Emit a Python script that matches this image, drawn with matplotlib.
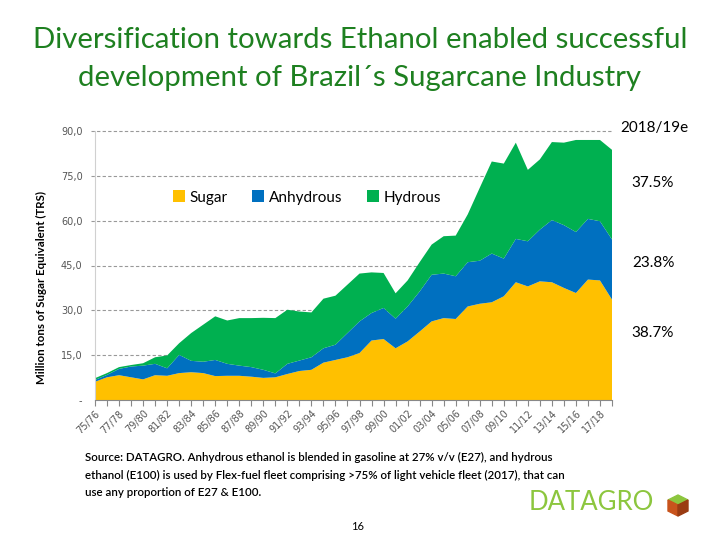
"""Brazil sugarcane TRS split: sugar / anhydrous / hydrous ethanol"""
import matplotlib
matplotlib.use("Agg")
import matplotlib.pyplot as plt
from matplotlib.patches import Polygon

plt.rcParams['font.family'] = ['Lato', 'DejaVu Sans']

seasons = ['75/76', '76/77', '77/78', '78/79', '79/80', '80/81', '81/82', '82/83',
           '83/84', '84/85', '85/86', '86/87', '87/88', '88/89', '89/90', '90/91',
           '91/92', '92/93', '93/94', '94/95', '95/96', '96/97', '97/98', '98/99',
           '99/00', '00/01', '01/02', '02/03', '03/04', '04/05', '05/06', '06/07',
           '07/08', '08/09', '09/10', '10/11', '11/12', '12/13', '13/14', '14/15',
           '15/16', '16/17', '17/18', '18/19']

# million t TRS
sugar = [6.1, 7.6, 8.3, 7.6, 6.9, 8.3, 8.1, 9.0, 9.3, 9.0, 8.0, 8.1, 8.1, 7.8, 7.4,
         7.6, 8.7, 9.7, 10.1, 12.5, 13.4, 14.3, 15.7, 19.9, 20.4, 17.3, 19.6, 22.9,
         26.3, 27.4, 27.1, 31.3, 32.2, 32.7, 34.7, 39.4, 38.0, 39.7, 39.4, 37.5,
         35.8, 40.3, 40.0, 33.6]
anhydrous = [0.6, 0.8, 2.1, 3.6, 4.6, 3.8, 2.5, 6.1, 3.8, 3.8, 5.4, 4.0, 3.4, 3.2, 2.7,
             1.3, 3.4, 3.5, 4.2, 4.8, 5.1, 8.1, 10.6, 9.2, 10.4, 9.9, 11.7, 13.4,
             15.6, 14.9, 14.3, 14.8, 14.4, 16.3, 12.6, 14.5, 15.1, 17.3, 20.8, 21.0,
             20.4, 20.3, 19.8, 20.1]
hydrous = [0.6, 0.6, 0.6, 0.5, 0.8, 2.2, 4.3, 3.9, 9.3, 12.4, 14.6, 14.5, 15.9, 16.4,
           17.4, 18.5, 18.1, 16.4, 15.0, 16.6, 16.4, 16.2, 16.0, 13.6, 11.7, 8.5, 8.7,
           9.8, 10.1, 12.5, 13.6, 16.0, 24.4, 30.8, 31.8, 32.2, 23.9, 23.5, 26.1, 27.6,
           30.8, 26.4, 27.2, 30.0]

share_labels = ['37.5%', '23.8%', '38.7%']   # hydrous, anhydrous, sugar in 2018/19e
y_ticks = [0, 15, 30, 45, 60, 75, 90]

source_lines = [
    "Source: DATAGRO. Anhydrous ethanol is blended in gasoline at 27% v/v (E27), and hydrous",
    "ethanol (E100) is used by Flex-fuel fleet comprising >75% of light vehicle fleet (2017), that can",
    "use any proportion of E27 & E100.",
]

C_SUGAR = '#FFC000'
C_ANHYD = '#0070C0'
C_HYD = '#00B050'
GRID = '#999999'

fig = plt.figure(figsize=(7.2, 5.4), dpi=100)
ax = fig.add_axes([95 / 720, 1 - 400 / 540, (612 - 95) / 720, (400 - 131) / 540])

x = list(range(len(seasons)))
ax.stackplot(x, sugar, anhydrous, hydrous, colors=[C_SUGAR, C_ANHYD, C_HYD],
             labels=['Sugar', 'Anhydrous', 'Hydrous'], zorder=2)

ax.set_xlim(0, len(seasons) - 1)
ax.set_ylim(0, 90)
ax.set_yticks(y_ticks)
ax.set_yticklabels(['-' if v == 0 else f'{v:.1f}'.replace('.', ',') for v in y_ticks],
                   fontsize=7, color='#555555', family=['DejaVu Sans'])
for v in y_ticks[1:]:
    ax.plot([-0.3, len(seasons) - 1], [v, v], ls=(0, (3, 2)), lw=0.8, color=GRID,
            zorder=1, clip_on=False)

ax.set_xticks(x)
ax.set_xticklabels([s if i % 2 == 0 else '' for i, s in enumerate(seasons)],
                   rotation=45, ha='right', rotation_mode='anchor', fontsize=7,
                   color='#555555', family=['DejaVu Sans'])
ax.tick_params(axis='x', length=4, color='#888888', pad=2)
ax.tick_params(axis='y', length=0, pad=9)

for side in ['top', 'right']:
    ax.spines[side].set_visible(False)
ax.spines['left'].set_color('#D0D0D0')
ax.spines['bottom'].set_color('#888888')

ax.set_ylabel('Million tons of Sugar Equivalent (TRS)', fontsize=8.3,
              fontweight='bold')
ax.yaxis.set_label_coords(-0.092, 0.42)

ax.legend(loc='upper center', bbox_to_anchor=(0.41, 0.83), ncol=3, frameon=False,
          fontsize=11, handlelength=0.8, handleheight=0.8, handletextpad=0.3,
          columnspacing=1.6)

# right hand annotations
fig.text(654 / 720, 1 - 128 / 540, '2018/19e', fontsize=11, ha='center', va='center')
for txt, ypx in zip(share_labels, [183, 263, 333]):
    fig.text(653 / 720, 1 - ypx / 540, txt, fontsize=11, ha='center', va='center')

fig.text(0.5, 1 - 40 / 540, 'Diversification towards Ethanol enabled successful',
         fontsize=21.2, color='#1E8020', ha='center', va='center')
fig.text(0.5, 1 - 78 / 540, 'development of Brazil´s Sugarcane Industry',
         fontsize=21.2, color='#1E8020', ha='center', va='center')

for i, line in enumerate(source_lines):
    fig.text(85 / 720, 1 - (457 + 18 * i) / 540, line, fontsize=8.3, ha='left',
             va='center', fontweight='semibold')
fig.text(358 / 720, 1 - 527 / 540, '16', fontsize=8, ha='center', va='center')

# DATAGRO logo
fig.text(529 / 720, 1 - 503 / 540, 'DATAGRO', fontsize=18.5, color='#8CC63E',
         ha='left', va='center')
cube = [[(668, 500), (678, 495), (688, 500), (678, 505)],
        [(668, 500), (678, 505), (678, 516), (668, 511)],
        [(678, 505), (688, 500), (688, 511), (678, 516)]]
for pts, col in zip(cube, ['#8CC63E', '#C8531C', '#9A3C12']):
    fig.patches.append(Polygon([(px / 720, 1 - py / 540) for px, py in pts],
                               closed=True, transform=fig.transFigure, color=col))

fig.savefig('out.png', dpi=100)
